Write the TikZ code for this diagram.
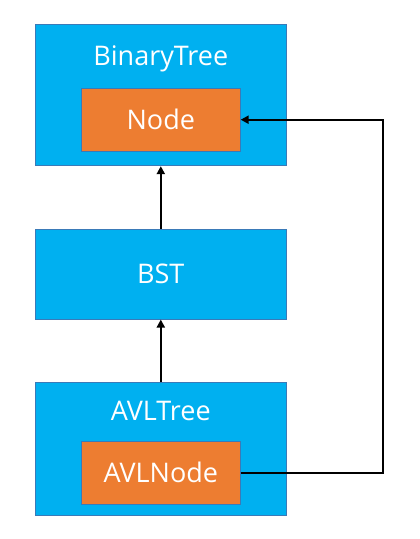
\documentclass[tikz,border=0pt]{standalone}
\usepackage{fontspec}
\setmainfont{Open Sans}
\usetikzlibrary{arrows.meta}

\definecolor{boxblue}{HTML}{00B0F0}
\definecolor{boxorange}{HTML}{ED7D31}
\definecolor{edgeblue}{HTML}{3A7AB8}

\begin{document}
\begin{tikzpicture}[x=1pt, y=-1pt,
		outer/.style={draw=edgeblue, line width=0.7pt, fill=boxblue, minimum width=251pt, inner sep=0pt},
		inner/.style={draw=edgeblue, line width=0.7pt, fill=boxorange, minimum width=159pt, minimum height=63pt, inner sep=0pt},
		lbl/.style={text=white, font=\fontsize{27}{31}\selectfont},
		link/.style={line width=2pt, -{Triangle[length=8pt, width=8pt]}}]
	\useasboundingbox (0,0) rectangle (420,539);
	\begin{scope}
		\node[outer, minimum height=141pt] (bt) at (160.8,95.3) {};
		\node[lbl] (btname) at (160.8,59) {BinaryTree};
		\node[inner] (nd) at (160.8,119.7) {};
		\node[lbl] (ndname) at (nd) {Node};

		\node[outer, minimum height=90pt] (bst) at (160.8,274.2) {};
		\node[lbl] (bstname) at (bst) {BST};

		\node[outer, minimum height=133pt] (avl) at (160.8,448.7) {};
		\node[lbl] (avlname) at (160.8,411) {AVLTree};
		\node[inner] (avln) at (160.8,472.8) {};
		\node[lbl] (avlnname) at (avln) {AVLNode};

		\draw[link] (bst.north) -- (bt.south); % da BST a BinaryTree
		\draw[link] (avl.north) -- (bst.north |- bst.south); % da AVLTree a BST

		\coordinate (turn) at (383.3,472.8);
		\draw[link] (avln.east) -- (turn) |- (nd.east); % da AVLNode a Node
	\end{scope}
\end{tikzpicture}
\end{document}
